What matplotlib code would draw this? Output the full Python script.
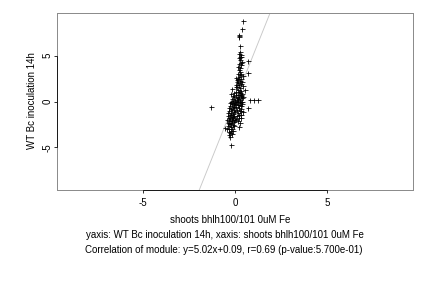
import numpy as np
import matplotlib
matplotlib.use("Agg")
import matplotlib.pyplot as plt

plt.rcParams['font.family'] = ['Liberation Sans', 'DejaVu Sans']

# points (x: shoots bhlh100/101 0uM Fe, y: WT Bc inoculation 14h)
x_top = [0.46, 0.38, 0.20, 0.24, 0.22, 0.27, 0.25, 0.22, 0.30, 0.28, 0.20, 0.35, 0.25, 0.40,
         0.71, 0.30, 0.22, 0.35, 0.18, 0.28, 0.71, 0.20, 0.25, 0.33, 0.15, 0.28, 0.42, 0.22,
         0.35, 0.18, 0.10, 0.25, 0.40, 0.15, 0.30, 0.08, 0.20, 0.45, -0.16, 0.53]
y_top = [8.75, 7.90, 7.15, 7.05, 7.25, 6.00, 5.40, 5.20, 5.10, 4.90, 4.75, 4.80, 4.55, 4.35,
         4.45, 4.20, 4.05, 3.95, 3.80, 3.60, 3.15, 3.40, 3.20, 3.05, 2.95, 2.85, 2.75, 2.65,
         2.50, 2.40, 2.30, 2.20, 2.10, 2.00, 1.95, 1.85, 1.75, 1.70, 1.35, 1.30]

x_right = [0.12, 0.28, 0.18, 0.35, 0.05, 0.25, 0.40, -0.20, 0.15, 0.30, 0.22, 0.10, 0.38,
           0.80, 1.02, 1.25, 0.28, 0.18, 0.33, 0.12, 0.25, 0.40, 0.15, 0.30, -1.30, 0.71,
           0.20, 0.35, 0.10, 0.25, 0.42, 0.18, 0.30, 0.12, 0.22, 0.35, 0.15, 0.22,
           0.08, 0.12, 0.05, 0.20, 0.08, 0.32, 0.14, 0.05, 0.22, 0.08, 0.30, 0.20, 0.08,
           0.28, 0.40, 0.45]
y_right = [1.55, 1.45, 1.20, 1.10, 1.05, 0.95, 0.85, 0.80, 0.70, 0.60, 0.50, 0.40, 0.35,
           0.18, 0.18, 0.18, 0.20, 0.10, 0.00, -0.10, -0.20, -0.30, -0.40, -0.50, -0.60, -0.72,
           -0.70, -0.85, -0.95, -1.05, -1.15, -1.30, -1.45, -1.60, -1.75, -1.85, -2.10, -2.80,
           2.55, 2.15, 1.60, 1.00, 0.75, 0.75, 0.25, -0.05, -0.35, -0.60, -1.00, -1.50, -1.90,
           -2.30, -0.05, 0.50]

x_left = [-0.10, -0.05, -0.15, -0.02, -0.12, -0.20, -0.08, -0.18, -0.03, -0.25, -0.12, -0.05,
          -0.22, -0.15, -0.30, -0.08, -0.20, -0.12, -0.28, -0.05, -0.18, -0.35, -0.10, -0.25,
          -0.15, -0.32, -0.05, -0.20, -0.28, -0.12, -0.38, -0.22, -0.56, -0.15, -0.30, -0.20,
          -0.35, -0.25, -0.15, -0.29, -0.23, -0.40, -0.45, -0.02, 0.00, 0.02, -0.38,
          -0.08, -0.25, -0.32, -0.10, -0.40, -0.18, -0.08, -0.42, -0.10, -0.30, -0.35, -0.22]
y_left = [0.60, 0.45, 0.30, 0.20, 0.05, -0.05, -0.15, -0.30, -0.40, -0.50, -0.60, -0.75,
          -0.85, -0.95, -1.05, -1.15, -1.25, -1.35, -1.45, -1.55, -1.65, -1.75, -1.85, -1.95,
          -2.05, -2.15, -2.25, -2.35, -2.45, -2.55, -2.65, -2.75, -2.85, -2.95, -3.05, -3.20,
          -3.30, -3.45, -3.55, -3.85, -4.75, -2.30, -2.00, -1.00, -0.30, -2.00, -1.30,
          0.95, -0.20, -0.70, -1.70, -1.60, -2.10, -2.70, -2.95, -3.25, -3.60, -2.50, -1.50]

slope, intercept = 5.02, 0.09
lim = 9.65
ticks = [-5, 0, 5]
xlab = "shoots bhlh100/101 0uM Fe"
ylab = "WT Bc inoculation 14h"
line2 = "yaxis: WT Bc inoculation 14h, xaxis: shoots bhlh100/101 0uM Fe"
line3 = "Correlation of module: y=5.02x+0.09, r=0.69 (p-value:5.700e-01)"

xs = np.array(x_top + x_right + x_left)
ys = np.array(y_top + y_right + y_left)

fs = 9.7
fig = plt.figure(figsize=(6, 4), dpi=72)
ax = fig.add_axes([57.3/432, 1-190/288, (412.7-57.3)/432, (190-13)/288])

ax.axline((0, intercept), slope=slope, color="#c8c8c8", lw=0.9, zorder=1)
ax.plot(xs, ys, "+", color="black", ms=5, mew=0.8, zorder=2)

ax.set_xlim(-lim, lim)
ax.set_ylim(-lim, lim)
ax.set_xticks(ticks)
ax.set_yticks(ticks)
ax.set_xticklabels([str(t) for t in ticks])
ax.set_yticklabels([str(t) for t in ticks], rotation=90, va="center")
ax.tick_params(direction="out", length=3, width=0.8, labelsize=fs, colors="black")
ax.tick_params(axis="x", pad=5)
ax.tick_params(axis="y", pad=2)
for s in ax.spines.values():
    s.set_color("#8c8c8c")
    s.set_linewidth(1.0)

# black axis lines spanning the tick range, R style
ax.plot([ticks[0], ticks[-1]], [0, 0], color="black", lw=0.8,
        transform=ax.get_xaxis_transform(), clip_on=False, zorder=3)
ax.plot([0, 0], [ticks[0], ticks[-1]], color="black", lw=0.8,
        transform=ax.get_yaxis_transform(), clip_on=False, zorder=3)

fig.text(230/432, 1-220/288, xlab, ha="center", va="center", fontsize=fs)
fig.text(32/432, 1-101/288, ylab, ha="center", va="center", rotation=90, fontsize=fs)
fig.text(224.5/432, 1-235.5/288, line2, ha="center", va="center", fontsize=fs)
fig.text(223.5/432, 1-250/288, line3, ha="center", va="center", fontsize=fs)

fig.savefig("out.png", dpi=72)
